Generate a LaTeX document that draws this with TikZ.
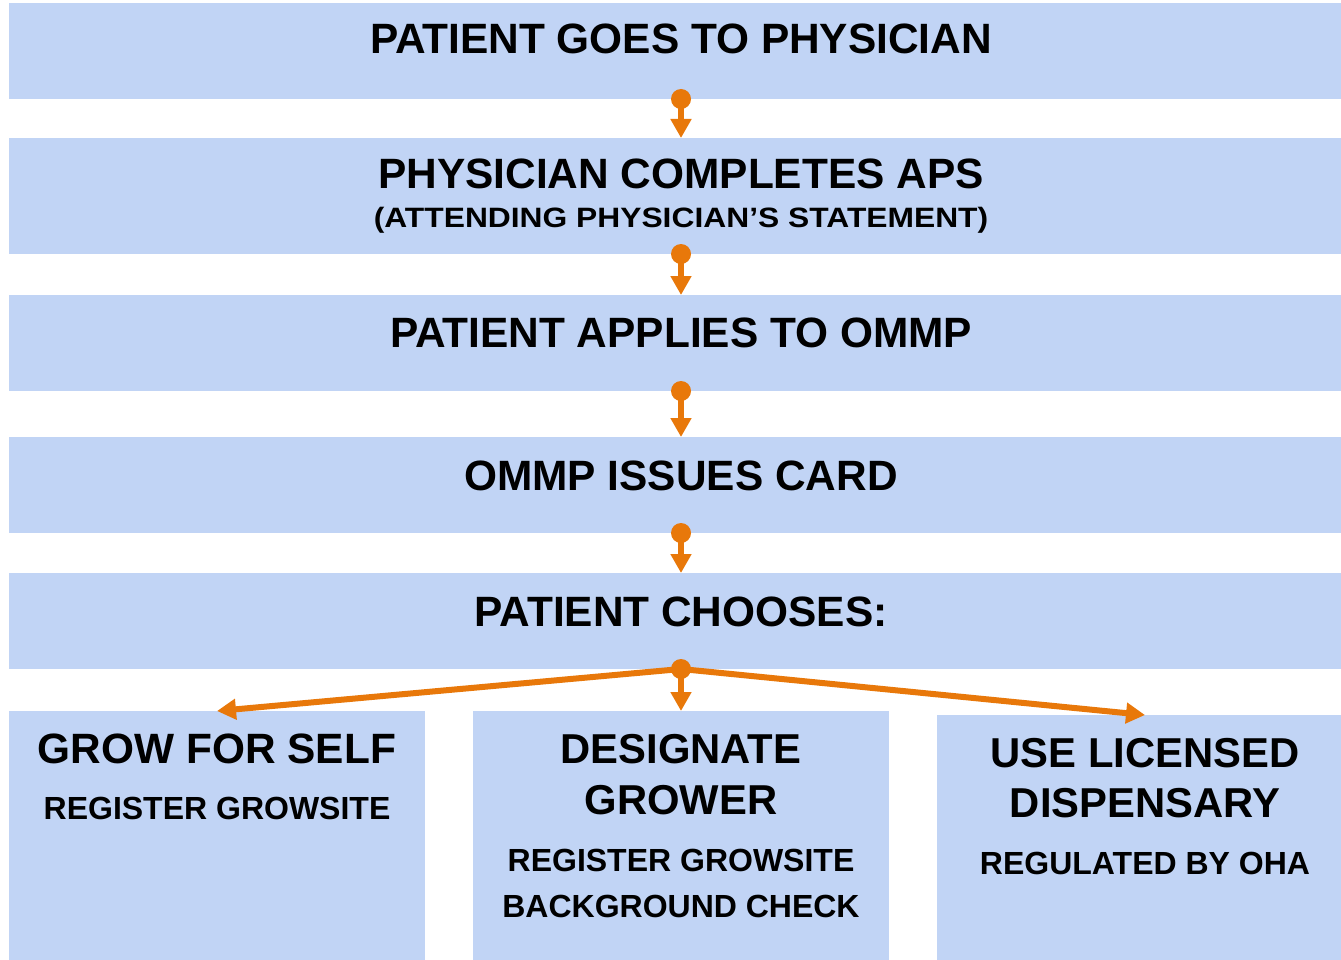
\documentclass[tikz,border=0pt]{standalone}
\usepackage{fontspec}
\setmainfont{Liberation Sans}
\usetikzlibrary{arrows.meta}
\definecolor{bandblue}{HTML}{C1D4F5}
\definecolor{arrorange}{HTML}{E8780A}
\tikzset{
  box/.style={fill=bandblue,draw=none,inner sep=0pt,outer sep=0pt,anchor=north west},
  big/.style={font=\bfseries\fontsize{42.4}{44}\selectfont,inner sep=0pt,anchor=base},
  mid/.style={font=\bfseries\fontsize{41.8}{43}\selectfont,inner sep=0pt,anchor=base},
  small/.style={font=\bfseries\fontsize{32}{34}\selectfont,inner sep=0pt,anchor=base},
  flow/.style={draw=arrorange,line width=6pt,-{Triangle[width=20pt,length=19pt]}},
  dot/.style={circle,fill=arrorange,draw=none,inner sep=0pt,minimum size=20pt}
}
\begin{document}
\begin{tikzpicture}[x=1pt,y=-1pt]
\useasboundingbox (0,0) rectangle (1341,960);
\fill[white] (0,0) rectangle (1341,960);
% bands
\node[box,minimum width=1344pt,minimum height=96pt] (b1) at (9,3) {};
\node[box,minimum width=1344pt,minimum height=116pt] (b2) at (9,138) {};
\node[box,minimum width=1344pt,minimum height=96pt] (b3) at (9,295) {};
\node[box,minimum width=1344pt,minimum height=96pt] (b4) at (9,437) {};
\node[box,minimum width=1344pt,minimum height=96pt] (b5) at (9,573) {};
\node[box,minimum width=416pt,minimum height=260pt] (g1) at (9,711) {};
\node[box,minimum width=416pt,minimum height=260pt] (g2) at (473,711) {};
\node[box,minimum width=416pt,minimum height=260pt] (g3) at (937,715) {};
% texts
\node[big] (t1) at (681,54) {PATIENT GOES TO PHYSICIAN};
\node[big] (t2) at (681,189) {PHYSICIAN COMPLETES APS};
\node[inner sep=0pt,anchor=base,font=\bfseries\fontsize{28}{30}\selectfont] (t2s) at (681,227) {\scalebox{1.135}[1]{(ATTENDING PHYSICIAN’S STATEMENT)}};
\node[big] (t3) at (681,347) {PATIENT APPLIES TO OMMP};
\node[big] (t4) at (681,490) {OMMP ISSUES CARD};
\node[big] (t5) at (681,626) {PATIENT CHOOSES:};
\node[big] (g1a) at (217,763) {GROW FOR SELF};
\node[small] (g1b) at (217,819) {REGISTER GROWSITE};
\node[mid] (g2a) at (681,763) {DESIGNATE};
\node[mid] (g2b) at (681,814) {GROWER};
\node[small] (g2c) at (681,871) {REGISTER GROWSITE};
\node[small] (g2d) at (681,917) {BACKGROUND CHECK};
\node[mid] (g3a) at (1145,767) {USE LICENSED};
\node[mid] (g3b) at (1145,817) {DISPENSARY};
\node[small] (g3c) at (1145,874) {REGULATED BY OHA};
% connectors
\node[dot] (d1) at (b1.south) {};
\node[dot] (d2) at (b2.south) {};
\node[dot] (d3) at (b3.south) {};
\node[dot] (d4) at (b4.south) {};
\node[dot] (d5) at (b5.south) {};
\draw[flow] (d1.center) -- (b2.north);
\draw[flow] (d2.center) -- (b3.north);
\draw[flow] (d3.center) -- (b4.north);
\draw[flow] (d4.center) -- (b5.north);
\draw[flow] (d5.center) -- (g1.north);
\draw[flow] (d5.center) -- (g2.north);
\draw[flow] (d5.center) -- (g3.north);
\end{tikzpicture}
\end{document}
